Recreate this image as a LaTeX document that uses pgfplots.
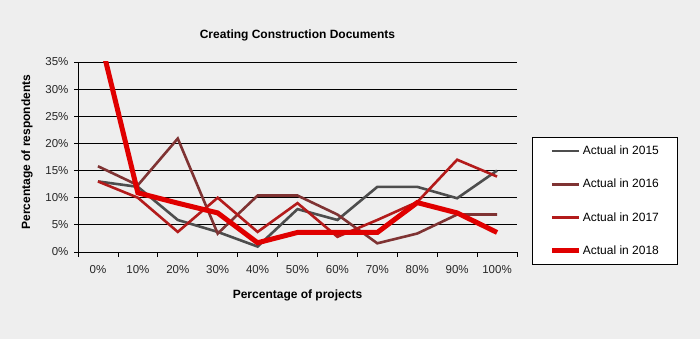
\documentclass[border=0pt]{standalone}
\usepackage{fontspec}
\setmainfont{Liberation Sans}
\usepackage{pgfplots}
\pgfplotsset{compat=1.18}
\definecolor{bg}{HTML}{EEEEEE}
\definecolor{c15}{HTML}{4D4D4D}
\definecolor{c16}{HTML}{7F3333}
\definecolor{c17}{HTML}{B31B1B}
\definecolor{c18}{HTML}{E00000}
\begin{document}
\begin{tikzpicture}[x=1pt,y=1pt]
\fill[bg] (0,0) rectangle (700,339);
\begin{axis}[
  at={(78pt,87pt)}, anchor=south west,
  scale only axis, width=439pt, height=190pt,
  xmin=-0.5, xmax=10.5, ymin=0, ymax=35,
  axis x line*=bottom, axis y line*=left,
  axis line style={black, line width=0.8pt},
  xtick={0,...,10},
  xticklabels={0\%,10\%,20\%,30\%,40\%,50\%,60\%,70\%,80\%,90\%,100\%},
  minor xtick={-0.5,0.5,...,10.5},
  x tick style={draw=none},
  minor x tick style={draw=black, line width=0.8pt},
  minor tick length=5pt,
  ytick={0,5,...,35},
  yticklabel={\pgfmathprintnumber{\tick}\%},
  y tick style={black, line width=0.8pt},
  major tick length=4pt,
  tick align=outside,
  ymajorgrids, grid style={black, line width=0.8pt},
  /pgf/number format/assume math mode=true,
  ticklabel style={font=\fontsize{11.5}{13}\selectfont, text=black!85},
  xticklabel style={yshift=-6pt},
  yticklabel style={xshift=-2pt},
  xlabel={Percentage of projects},
  xlabel style={at={(axis description cs:0.5,0)}, anchor=center, yshift=-43pt, font=\bfseries\fontsize{12}{14}\selectfont},
  ylabel={Percentage of respondents},
  ylabel style={at={(axis description cs:-0.116,0.526)}, anchor=center, font=\bfseries\fontsize{12}{14}\selectfont},
  title={Creating Construction Documents},
  title style={at={(axis description cs:0.5,1)}, anchor=center, yshift=21pt, font=\bfseries\fontsize{12}{14}\selectfont},
  legend style={at={(axis description cs:1.034,0.605)}, anchor=north west,
    draw=black, fill=white, line width=0.8pt,
    inner xsep=17pt, inner ysep=7pt,
    row sep=20pt, font=\fontsize{12}{14}\selectfont,
    nodes={inner sep=1.5pt, minimum width=0pt, minimum height=0pt}},
  legend cell align=left,
  legend image code/.code={\draw[#1] (0pt,0pt) -- (27pt,0pt);},
]
\addplot[c15, line width=2.6pt] coordinates {(0,13) (1,12) (2,5.9) (3,3.7) (4,1) (5,7.9) (6,5.9) (7,12) (8,12) (9,9.9) (10,15)};
\addlegendentry{Actual in 2015}
\addplot[c16, line width=2.6pt] coordinates {(0,15.8) (1,12.3) (2,20.9) (3,3.4) (4,10.4) (5,10.4) (6,6.9) (7,1.6) (8,3.4) (9,6.9) (10,6.9)};
\addlegendentry{Actual in 2016}
\addplot[c17, line width=2.6pt] coordinates {(0,13) (1,10) (2,3.7) (3,10) (4,3.7) (5,9) (6,2.8) (7,5.9) (8,9.2) (9,17) (10,13.9)};
\addlegendentry{Actual in 2017}
\addplot[c18, line width=5pt] coordinates {(0,41) (1,10.9) (2,9) (3,7.2) (4,1.7) (5,3.6) (6,3.6) (7,3.6) (8,9.1) (9,7.2) (10,3.6)};
\addlegendentry{Actual in 2018}
\end{axis}
\end{tikzpicture}
\end{document}
